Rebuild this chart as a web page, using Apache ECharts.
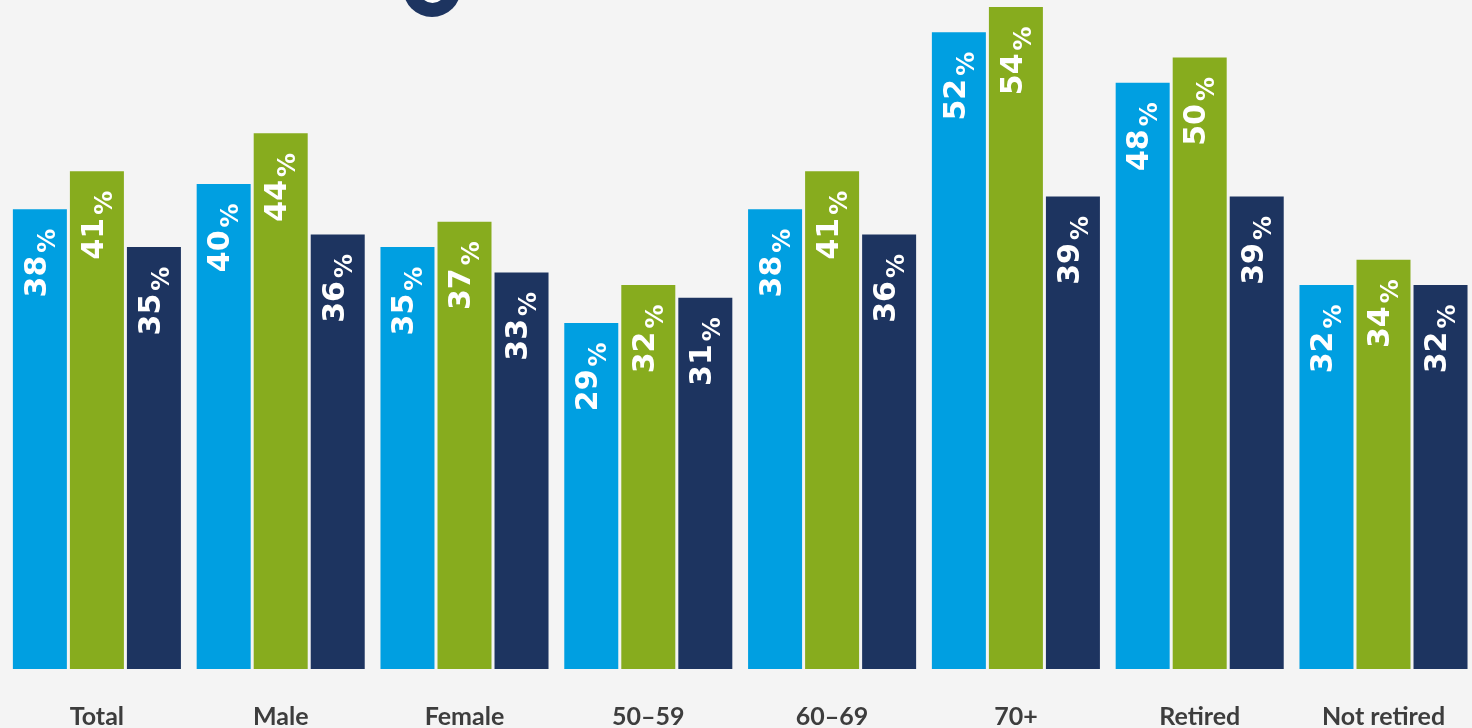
<!DOCTYPE html>
<html>
<head>
<meta charset="utf-8">
<script src="https://cdn.jsdelivr.net/npm/echarts@6/dist/echarts.min.js"></script>
<style>
  html, body { margin: 0; padding: 0; background: #f4f4f4; }
  #chart { width: 1472px; height: 728px; }
</style>
</head>
<body>
<div id="chart"></div>
<script>
// Groups along the bottom
const categories = ['Total', 'Male', 'Female', '50\u201359', '60\u201369', '70+', 'Retired', 'Not retired'];

// Three series of percentages, one bar per group each
const seriesBlue  = [38, 40, 35, 29, 38, 52, 48, 32];
const seriesGreen = [41, 44, 37, 32, 41, 54, 50, 34];
const seriesNavy  = [35, 36, 33, 31, 36, 39, 39, 32];

const colors = ['#009fe1', '#87ac1e', '#1d3460'];

const labelFont = '"DejaVu Sans", sans-serif';

// Value labels read upwards inside the top of each bar; the "%" is smaller and dropped
const barLabel = {
  show: true,
  position: 'insideTop',
  distance: 19.5,
  rotate: 90,
  align: 'right',
  verticalAlign: 'middle',
  fontFamily: labelFont,
  fontWeight: 'bold',
  fontSize: 30,
  color: '#ffffff',
  formatter: p => '{n|' + p.value + '}{p|%}',
  rich: {
    n: {
      fontFamily: labelFont,
      fontWeight: 'bold',
      fontSize: 30,
      lineHeight: 30,
      color: '#ffffff',
      verticalAlign: 'middle',
      padding: [0, 0, 4, 0]
    },
    p: {
      fontFamily: labelFont,
      fontWeight: 'bold',
      fontSize: 24,
      lineHeight: 24,
      color: '#ffffff',
      verticalAlign: 'middle',
      padding: [17, 0, 0, 3]
    }
  }
};

function makeSeries(values, color) {
  return {
    type: 'bar',
    data: values,
    barWidth: 54,
    barGap: '5.6%',
    clip: true,
    itemStyle: { color: color },
    label: barLabel,
    emphasis: { disabled: true },
    animation: false
  };
}

const chart = echarts.init(document.getElementById('chart'));
chart.setOption({
  backgroundColor: '#f4f4f4',
  animation: false,
  grid: { left: 5, top: 0, width: 1470.4, bottom: 59, containLabel: false, outerBoundsMode: 'none' },
  xAxis: {
    type: 'category',
    data: categories,
    axisLine: { show: false },
    axisTick: { show: false },
    axisLabel: {
      margin: 35,
      fontFamily: 'Lato',
      fontWeight: 'bold',
      fontSize: 25,
      color: '#3d3d3d'
    }
  },
  yAxis: {
    type: 'value',
    show: false,
    min: 1.62,
    max: 54.55,
    splitLine: { show: false }
  },
  series: [
    makeSeries(seriesBlue, colors[0]),
    makeSeries(seriesGreen, colors[1]),
    makeSeries(seriesNavy, colors[2])
  ],
  graphic: [
    {
      type: 'circle',
      shape: { cx: 432, cy: -12, r: 29 },
      style: { fill: '#1d3460' },
      silent: true
    },
    {
      type: 'circle',
      shape: { cx: 432.5, cy: -10, r: 11 },
      style: { fill: 'none', stroke: '#ffffff', lineWidth: 4 },
      silent: true
    }
  ]
});
</script>
</body>
</html>
